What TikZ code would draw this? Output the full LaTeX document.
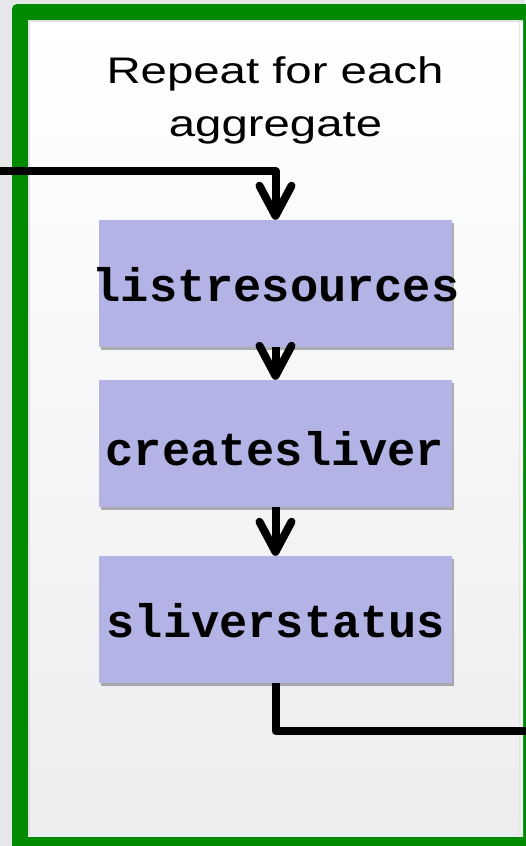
\documentclass[tikz,border=0pt]{standalone}
\usepackage{fontspec}
\setmainfont{Liberation Sans}
\newfontfamily\codefont{Liberation Mono}
\usetikzlibrary{arrows.meta,shadows}
\definecolor{framegreen}{RGB}{0,138,0}
\definecolor{boxfill}{RGB}{179,179,230}
\definecolor{outerbg}{RGB}{230,231,232}
\definecolor{panelbottom}{RGB}{236,237,239}
\tikzset{
  stepbox/.style={fill=boxfill, minimum width=353pt, minimum height=127pt, inner sep=0pt,
    drop shadow={shadow xshift=2pt, shadow yshift=-3pt, opacity=0.3, fill=black}},
  codelabel/.style={anchor=base, inner sep=0pt, font=\codefont\bfseries\fontsize{47}{47}\selectfont},
  titlelabel/.style={anchor=base, inner sep=0pt, font=\fontsize{37}{45}\selectfont},
  flowline/.style={line width=8pt, draw=black, line join=round},
  flowarrow/.style={flowline, -{Straight Barb[length=30pt, width=32pt, round]}}
}
\begin{document}
\begin{tikzpicture}[x=1pt, y=-1pt]
  \useasboundingbox (0,0) rectangle (525,846);
  % background and frame
  \fill[outerbg] (0,0) rectangle (525,846);
  \fill[framegreen, rounded corners=5pt] (12,4) rectangle (545,866);
  \shade[top color=white, bottom color=panelbottom] (28,20) rectangle (523,836);
  \draw[black!12, line width=2pt] (29,836) -- (29,21) -- (523,21);
  \draw[black!10, line width=1.5pt] (519.5,21) -- (519.5,836);
  % title
  \node[titlelabel] (title1) at (275,83) {\scalebox{1.28}[1]{Repeat for each}};
  \node[titlelabel] (title2) at (275.5,136) {\scalebox{1.28}[1]{aggregate}};
  % boxes
  \node[stepbox] (b1) at (275.5,283.5) {};
  \node[stepbox] (b2) at (275.5,443.5) {};
  \node[stepbox] (b3) at (275.5,619.5) {};
  \node[codelabel] (t1) at (276,301.5) {listresources};
  \node[codelabel] (t2) at (275,465) {createsliver};
  \node[codelabel] (t3) at (276,637) {sliverstatus};
  % connectors
  \coordinate (inlet) at (-10,171);
  \coordinate (outlet) at (540,731);
  \draw[flowarrow] (inlet) -| (b1.north);
  \draw[flowarrow] (b1.south) -- (b2.north);
  \draw[flowarrow] (b2.south) -- (b3.north);
  \draw[flowline] (b3.south) |- (outlet);
\end{tikzpicture}
\end{document}
